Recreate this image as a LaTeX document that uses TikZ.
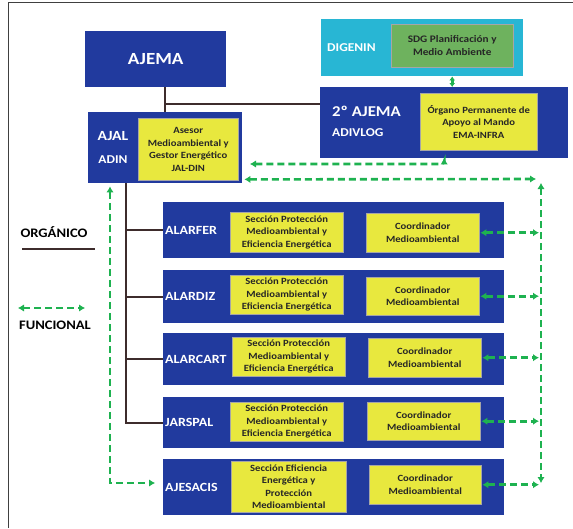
\documentclass[tikz,border=0pt]{standalone}
\usepackage{fontspec}
\setmainfont[FakeStretch=1.12]{Carlito}
\usetikzlibrary{arrows.meta}
\definecolor{azulosc}{RGB}{33,58,158}
\definecolor{amarillo}{RGB}{232,232,62}
\definecolor{cian}{RGB}{40,182,212}
\definecolor{verdesdg}{RGB}{110,178,94}
\definecolor{verdefun}{RGB}{30,178,80}
\definecolor{organico}{RGB}{62,44,44}
\begin{document}
\begin{tikzpicture}[x=1pt, y=-1pt,
    caja/.style={anchor=north west, inner sep=0pt, fill=azulosc, text=white, font=\bfseries},
    amarilla/.style={anchor=north west, inner sep=0pt, fill=amarillo, draw=black!35, line width=0.4pt,
        align=center, text=black!85, font=\bfseries\fontsize{9.5}{12.5}\selectfont},
    rotulo/.style={anchor=west, inner sep=0pt, text=white, font=\bfseries\fontsize{12.5}{14}\selectfont},
    orgline/.style={draw=organico, line width=1.6pt},
    funcline/.style={draw=verdefun, line width=2.6pt, dash pattern=on 7pt off 4pt,
        arrows={Latex[length=6pt,width=7.5pt]-Latex[length=6pt,width=7.5pt]}}]
    \useasboundingbox (0,0) rectangle (573,528);
    % Marco
    \draw[black!75, line width=0.8pt] (8,528) -- (8,2) -- (573,2);

    % Nivel superior
    \node[caja, minimum width=141pt, minimum height=56pt, font=\bfseries\fontsize{17}{20}\selectfont] (ajema) at (85,31) {AJEMA};

    \node[caja, fill=cian, minimum width=202pt, minimum height=57pt] (digenin) at (321,19) {};
    \node[rotulo, font=\bfseries\fontsize{12}{14}\selectfont] (digtxt) at (327,48) {DIGENIN};
    \node[amarilla, fill=verdesdg, minimum width=122pt, minimum height=43pt, font=\bfseries\fontsize{10}{13}\selectfont] (sdg) at (391,24) {SDG Planificación y\\Medio Ambiente};

    \node[caja, minimum width=248pt, minimum height=71pt] (ajema2) at (320,87) {};
    \node[rotulo, font=\bfseries\fontsize{15}{18}\selectfont] (ajema2txt) at (332,111) {2º AJEMA};
    \node[rotulo, font=\bfseries\fontsize{12}{14}\selectfont] (adivlog) at (332,133) {ADIVLOG};
    \node[amarilla, minimum width=117pt, minimum height=57pt] (organo) at (420,93) {Órgano Permanente de\\Apoyo al Mando\\EMA-INFRA};

    \node[caja, minimum width=154pt, minimum height=71pt] (ajal) at (88,112) {};
    \node[rotulo, anchor=center, font=\bfseries\fontsize{14}{16}\selectfont] (ajaltxt) at (113,136) {AJAL};
    \node[rotulo, anchor=center, font=\bfseries\fontsize{12}{14}\selectfont] (adin) at (113,160) {ADIN};
    \node[amarilla, minimum width=100pt, minimum height=62pt] (asesor) at (138,118) {Asesor\\Medioambiental y\\Gestor Energético\\JAL-DIN};

    % Mandos subordinados
    \node[caja, minimum width=341pt, minimum height=56pt] (alarfer) at (163,202) {};
    \node[rotulo] (alarfertxt) at (165,230) {ALARFER};
    \node[amarilla, minimum width=113pt, minimum height=40pt] (secfer) at (230,212) {Sección Protección\\Medioambiental y\\Eficiencia Energética};
    \node[amarilla, minimum width=113pt, minimum height=39pt] (coordfer) at (366,213) {Coordinador\\Medioambiental};

    \node[caja, minimum width=341pt, minimum height=53pt] (alardiz) at (163,270) {};
    \node[rotulo] (alardiztxt) at (165,296) {ALARDIZ};
    \node[amarilla, minimum width=113pt, minimum height=39pt] (secdiz) at (230,275) {Sección Protección\\Medioambiental y\\Eficiencia Energética};
    \node[amarilla, minimum width=113pt, minimum height=38pt] (coorddiz) at (366,277) {Coordinador\\Medioambiental};

    \node[caja, minimum width=341pt, minimum height=52pt] (alarcart) at (163,333) {};
    \node[rotulo] (alarcarttxt) at (165,359) {ALARCART};
    \node[amarilla, minimum width=113pt, minimum height=39pt] (seccart) at (232,337) {Sección Protección\\Medioambiental y\\Eficiencia Energética};
    \node[amarilla, minimum width=113pt, minimum height=39pt] (coordcart) at (368,338) {Coordinador\\Medioambiental};

    \node[caja, minimum width=341pt, minimum height=51pt] (jarspal) at (163,397) {};
    \node[rotulo] (jarspaltxt) at (165,422) {JARSPAL};
    \node[amarilla, minimum width=113pt, minimum height=39pt] (secspal) at (230,402) {Sección Protección\\Medioambiental y\\Eficiencia Energética};
    \node[amarilla, minimum width=113pt, minimum height=38pt] (coordspal) at (367,402) {Coordinador\\Medioambiental};

    \node[caja, minimum width=341pt, minimum height=56pt] (ajesacis) at (163,459) {};
    \node[rotulo] (ajesacistxt) at (165,487) {AJESACIS};
    \node[amarilla, minimum width=115pt, minimum height=51pt] (secsacis) at (231,461) {Sección Eficiencia\\Energética y\\Protección\\Medioambiental};
    \node[amarilla, minimum width=112pt, minimum height=39pt] (coordsacis) at (369,465) {Coordinador\\Medioambiental};

    % Dependencia organica
    \coordinate (cruce) at (165,104);
    \draw[orgline] (ajema.south -| cruce) -- (ajal.north -| cruce);
    \draw[orgline] (cruce) -- (cruce -| ajema2.west);
    \coordinate (tronco) at (126,183);
    \draw[orgline] (tronco) |- (jarspal.west);
    \foreach \n in {alarfer,alardiz,alarcart}
        \draw[orgline] (tronco |- \n.west) -- (\n.west);

    % Dependencia funcional
    \draw[funcline, dash pattern=on 20pt off 0pt, arrows={Latex[length=4pt,width=6pt]-Latex[length=4pt,width=6pt]}] (sdg.south |- digenin.south) -- (sdg.south |- ajema2.north);
    \coordinate (f1) at (250,164);
    \draw[funcline, rounded corners=3pt] (f1) -| (ajema2.south);
    \coordinate (f2) at (536,179);
    \draw[funcline, shorten <=2pt] ([yshift=4pt]ajal.south east) -- (f2);
    \coordinate (dtop) at (541,183);
    \coordinate (dbot) at (541,483);
    \draw[funcline] (dtop) -- (dbot);
    \foreach \c in {coordfer,coorddiz,coordcart,coordspal,coordsacis}
        \draw[funcline, shorten >=2pt, shorten <=1pt] (\c.east) -- (\c.east -| dtop);
    \coordinate (esq) at (110,483);
    \draw[funcline, shorten <=3pt, shorten >=8pt] (ajal.south -| esq) -- (esq) -- (ajesacis.west |- esq);

    % Leyenda
    \node[text=black, font=\bfseries\fontsize{13}{15}\selectfont] (orgleg) at (54,232) {ORGÁNICO};
    \draw[orgline] (22,249) -- (95,249);
    \draw[funcline] (18,308) -- (85,308);
    \node[text=black, font=\bfseries\fontsize{13}{15}\selectfont] (funleg) at (55,325) {FUNCIONAL};
\end{tikzpicture}
\end{document}
